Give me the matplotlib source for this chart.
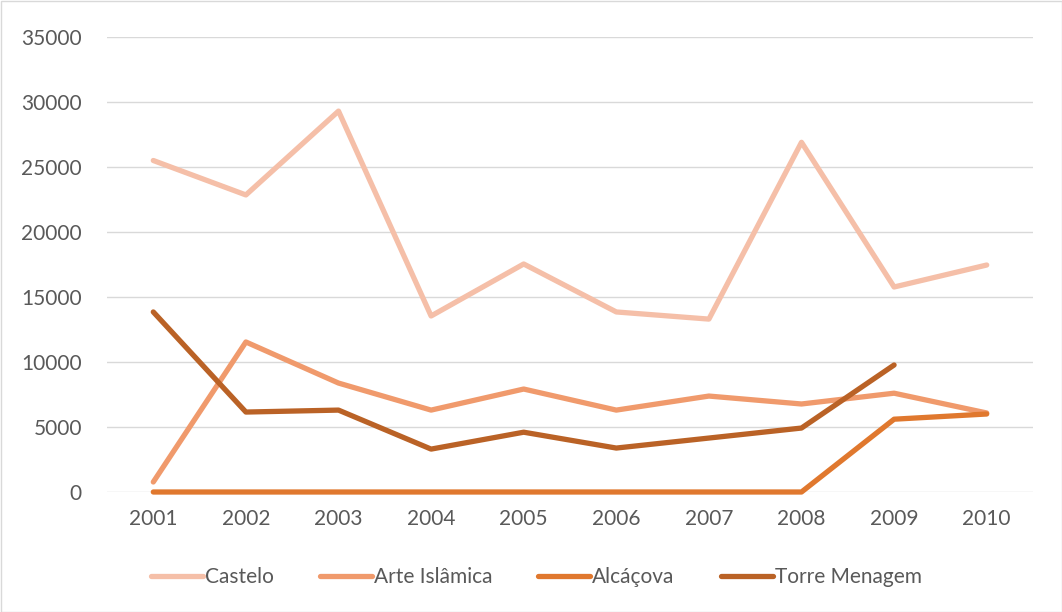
import matplotlib.pyplot as plt
from matplotlib.patches import Rectangle

plt.rcParams['font.family'] = ['Lato', 'DejaVu Sans']

years = ['2001', '2002', '2003', '2004', '2005', '2006', '2007', '2008', '2009', '2010']
castelo = [25500, 22850, 29300, 13540, 17540, 13850, 13300, 26900, 15770, 17460]
arte_islamica = [770, 11540, 8380, 6300, 7920, 6300, 7380, 6770, 7600, 6080]
alcacova = [0, 0, 0, 0, 0, 0, 0, 0, 5600, 6000]
torre_menagem = [13850, 6150, 6300, 3300, 4600, 3380, 4150, 4920, 9770]

fig = plt.figure(figsize=(10.62, 6.12), dpi=100)
ax = fig.add_axes([107 / 1062, 1 - 492 / 612, 926 / 1062, 455 / 612])

x = list(range(len(years)))
series = [
    ('Castelo', castelo, '#F5BFA8'),
    ('Arte Islâmica', arte_islamica, '#F09A6C'),
    ('Alcáçova', alcacova, '#E0782E'),
    ('Torre Menagem', torre_menagem, '#BA6226'),
]
for name, vals, col in series:
    ax.plot(x[:len(vals)], vals, color=col, lw=3.8, label=name, clip_on=False,
            solid_capstyle='round', solid_joinstyle='round')

ax.set_xlim(-0.5, len(years) - 0.5)
ax.set_ylim(0, 35000)
ax.set_yticks(range(0, 35001, 5000))
ax.set_xticks(x)
ax.set_xticklabels(years)
ax.grid(axis='y', color='#D9D9D9', lw=1)
ax.set_axisbelow(True)
for s in ax.spines.values():
    s.set_visible(False)
ax.tick_params(length=0, labelsize=15, colors='#595959', pad=12)
ax.tick_params(axis='y', pad=18)

leg = fig.legend(loc='center', bbox_to_anchor=(0.505, 1 - 577 / 612), ncol=4,
                 frameon=False, fontsize=15, handlelength=2.5, handletextpad=0.1,
                 columnspacing=2.2)
for t in leg.get_texts():
    t.set_color('#595959')

fig.patches.append(Rectangle((0.5 / 1062, 0.5 / 612), 1 - 1 / 1062, 1 - 1 / 612,
                             transform=fig.transFigure, fill=False,
                             edgecolor='#D9D9D9', lw=1))

fig.savefig('out.png', dpi=100)
